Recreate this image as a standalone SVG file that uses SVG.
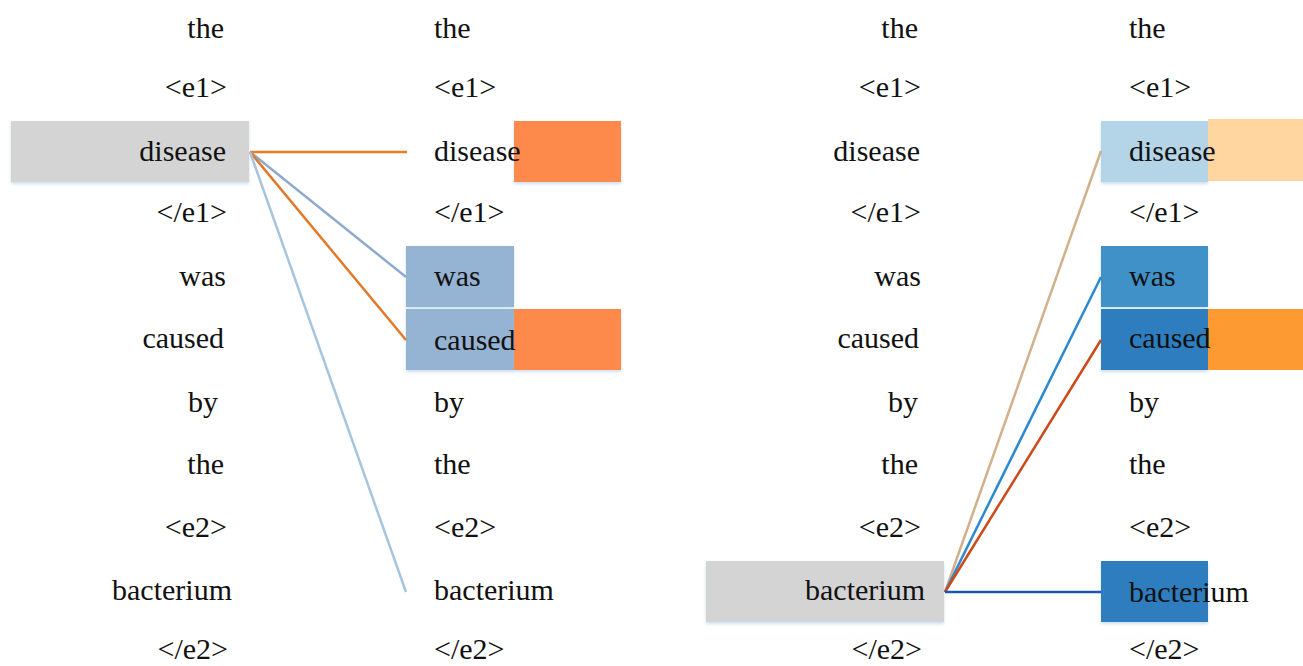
<svg xmlns="http://www.w3.org/2000/svg" width="1303" height="666" viewBox="0 0 1303 666">
<defs>
<style>
text{font-family:"Times New Roman","Liberation Serif",Times,serif;font-size:30px;fill:#111}
.r{text-anchor:end}
.grey{fill:#d4d4d4}
.c{fill:none;stroke-width:2.5}
</style>
<filter id="sh" x="-5%" y="-5%" width="110%" height="120%"><feDropShadow dx="0" dy="2" stdDeviation="1.5" flood-color="#9fc0e0" flood-opacity="0.5"/></filter>
</defs>
<rect width="1303" height="666" fill="#fff"/>
<g id="boxes">
<rect id="L-disease-box" class="grey" x="11" y="121" width="238" height="61" filter="url(#sh)"/>
<rect x="514" y="121" width="107" height="61" fill="#fd8a4c" filter="url(#sh)"/>
<rect x="406" y="246" width="108" height="61" fill="#95b3d3" filter="url(#sh)"/>
<rect x="406" y="309" width="108" height="61" fill="#95b3d3" filter="url(#sh)"/>
<rect x="514" y="309" width="107" height="61" fill="#fd8a4c" filter="url(#sh)"/>
<rect id="R-bacterium-box" class="grey" x="706" y="561" width="238" height="61" filter="url(#sh)"/>
<rect x="1101" y="121" width="107" height="61" fill="#b4d5e8" filter="url(#sh)"/>
<rect x="1208" y="119" width="95" height="62" fill="#ffd5a0"/>
<rect x="1101" y="246" width="107" height="61" fill="#3f91c8" filter="url(#sh)"/>
<rect x="1101" y="309" width="107" height="61" fill="#2e7ebf" filter="url(#sh)"/>
<rect x="1208" y="309" width="95" height="61" fill="#fe9a32"/>
<rect x="1101" y="561" width="107" height="61" fill="#2e7ebf" filter="url(#sh)"/>
</g>
<g id="connectors">
<line class="c" x1="250" y1="152" x2="407" y2="152" stroke="#f07a1e"/>
<line class="c" x1="250" y1="152" x2="406" y2="277" stroke="#8eaacf"/>
<line class="c" x1="250" y1="152" x2="406" y2="340" stroke="#e07a2a"/>
<line class="c" x1="250" y1="152" x2="406" y2="592" stroke="#a6c4de"/>
<line class="c" x1="945" y1="592" x2="1101" y2="151" stroke="#d2b08a"/>
<line class="c" x1="945" y1="592" x2="1101" y2="277" stroke="#2b89d0"/>
<line class="c" x1="945" y1="592" x2="1101" y2="340" stroke="#cc4a1a"/>
<line class="c" x1="945" y1="592" x2="1101" y2="592" stroke="#1c55b5"/>
</g>
<g id="left-col1">
<text class="r" x="224" y="38">the</text>
<text class="r" x="227" y="97">&lt;e1&gt;</text>
<text class="r" x="226" y="161">disease</text>
<text class="r" x="227" y="222">&lt;/e1&gt;</text>
<text class="r" x="226" y="286">was</text>
<text class="r" x="224" y="348">caused</text>
<text class="r" x="218" y="412">by</text>
<text class="r" x="224" y="474">the</text>
<text class="r" x="227" y="537">&lt;e2&gt;</text>
<text class="r" x="232" y="600">bacterium</text>
<text class="r" x="228" y="659">&lt;/e2&gt;</text>
</g>
<g id="left-col2">
<text x="434" y="38">the</text>
<text x="434" y="97">&lt;e1&gt;</text>
<text x="434" y="161">disease</text>
<text x="434" y="222">&lt;/e1&gt;</text>
<text x="434" y="286">was</text>
<text x="434" y="350">caused</text>
<text x="434" y="412">by</text>
<text x="434" y="474">the</text>
<text x="434" y="537">&lt;e2&gt;</text>
<text x="434" y="600">bacterium</text>
<text x="434" y="659">&lt;/e2&gt;</text>
</g>
<g id="right-col1">
<text class="r" x="918" y="38">the</text>
<text class="r" x="921" y="97">&lt;e1&gt;</text>
<text class="r" x="920" y="161">disease</text>
<text class="r" x="921" y="222">&lt;/e1&gt;</text>
<text class="r" x="921" y="286">was</text>
<text class="r" x="919" y="348">caused</text>
<text class="r" x="918" y="412">by</text>
<text class="r" x="918" y="474">the</text>
<text class="r" x="921" y="537">&lt;e2&gt;</text>
<text class="r" x="925" y="600">bacterium</text>
<text class="r" x="922" y="659">&lt;/e2&gt;</text>
</g>
<g id="right-col2">
<text x="1129" y="38">the</text>
<text x="1129" y="97">&lt;e1&gt;</text>
<text x="1129" y="161">disease</text>
<text x="1129" y="222">&lt;/e1&gt;</text>
<text x="1129" y="286">was</text>
<text x="1129" y="348">caused</text>
<text x="1129" y="412">by</text>
<text x="1129" y="474">the</text>
<text x="1129" y="537">&lt;e2&gt;</text>
<text x="1129" y="602">bacterium</text>
<text x="1129" y="659">&lt;/e2&gt;</text>
</g>
</svg>
